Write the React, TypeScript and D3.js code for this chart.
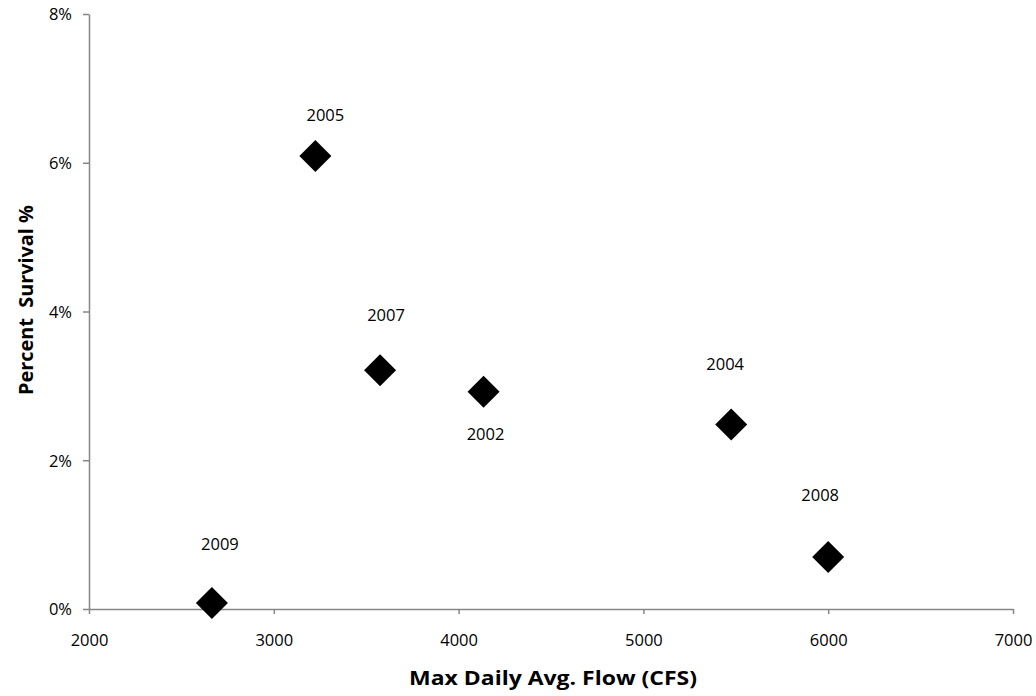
import React, { useEffect, useRef } from 'react';
import * as d3 from 'd3';

// Data
const years = ['2009', '2005', '2007', '2002', '2004', '2008'];
const flows = [2665, 3225, 3575, 4135, 5475, 6000];
const survival = [0.08, 6.09, 3.21, 2.92, 2.48, 0.70];
// label placement relative to the marker (pixels)
const labelDx = [8, 10, 6, 2, -6, -8];
const labelDy = [-59, -41, -55, 42, -60, -62];

const xTicks = [2000, 3000, 4000, 5000, 6000, 7000];
const yTicks = [0, 2, 4, 6, 8];

const FONT = "'Open Sans', 'Liberation Sans', sans-serif";

export default function App() {
  const ref = useRef<SVGSVGElement>(null);

  useEffect(() => {
    if (!ref.current) return;
    const svg = d3.select(ref.current);
    svg.selectAll('*').remove();

    const left = 89, right = 1013, top = 14, bottom = 609;

    const x = d3.scaleLinear().domain([2000, 7000]).range([left, right]);
    const y = d3.scaleLinear().domain([0, 8]).range([bottom, top]);

    const axisColor = '#868686';

    // x axis
    const xAxis = svg.append('g')
      .attr('transform', `translate(0,${bottom})`)
      .call(d3.axisBottom(x).tickValues(xTicks).tickSize(5).tickSizeOuter(0).tickFormat(d => `${d}`));
    xAxis.attr('font-family', FONT).attr('font-size', 16.5);
    xAxis.select('.domain').attr('stroke', axisColor).attr('stroke-width', 1.5);
    xAxis.selectAll('.tick line').attr('stroke', axisColor).attr('stroke-width', 1.5);
    xAxis.selectAll('.tick text')
      .attr('fill', '#000')
      .attr('y', 0).attr('dy', 0)
      .attr('transform', 'translate(0,37)');

    // y axis
    const yAxis = svg.append('g')
      .attr('transform', `translate(${left},0)`)
      .call(d3.axisLeft(y).tickValues(yTicks).tickSize(6).tickSizeOuter(0).tickFormat(d => `${d}%`));
    yAxis.attr('font-family', FONT).attr('font-size', 16.5);
    yAxis.select('.domain').attr('stroke', axisColor).attr('stroke-width', 1.5);
    yAxis.selectAll('.tick text')
      .attr('fill', '#000')
      .attr('x', -17).attr('dy', '0.35em');
    yAxis.selectAll('.tick line').attr('stroke', axisColor).attr('stroke-width', 1.5);

    // markers
    const diamond = d3.symbol().type(d3.symbolSquare).size(512);
    const idx = d3.range(years.length);
    svg.append('g').selectAll('path')
      .data(idx)
      .enter()
      .append('path')
      .attr('d', diamond)
      .attr('transform', i => `translate(${x(flows[i])},${y(survival[i])}) rotate(45)`)
      .attr('fill', '#000');

    // data labels
    svg.append('g').selectAll('text')
      .data(idx)
      .enter()
      .append('text')
      .attr('x', i => x(flows[i]) + labelDx[i])
      .attr('y', i => y(survival[i]) + labelDy[i])
      .attr('dy', '0.35em')
      .attr('text-anchor', 'middle')
      .attr('font-family', FONT)
      .attr('font-size', 16.5)
      .attr('fill', '#000')
      .text(i => years[i]);

    // axis titles
    svg.append('text')
      .attr('x', 553).attr('y', 685)
      .attr('text-anchor', 'middle')
      .attr('font-family', FONT).attr('font-size', 19).attr('font-weight', 'bold')
      .attr('textLength', 288).attr('lengthAdjust', 'spacingAndGlyphs')
      .text('Max Daily Avg. Flow (CFS)');

    svg.append('text')
      .attr('transform', 'translate(33,300) rotate(-90)')
      .attr('text-anchor', 'middle')
      .attr('font-family', FONT).attr('font-size', 19).attr('font-weight', 'bold')
      .attr('textLength', 190).attr('lengthAdjust', 'spacingAndGlyphs')
      .text('Percent\u00a0 Survival %');
  }, []);

  return (
    <svg ref={ref} width={1036} height={696}
      style={{ position: 'absolute', left: 0, top: 0, background: '#fff' }} />
  );
}
